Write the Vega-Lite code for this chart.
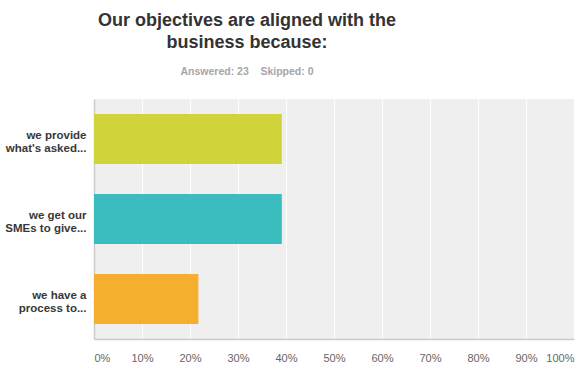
{
  "$schema": "https://vega.github.io/schema/vega-lite/v6.json",
  "autosize": {"type": "none"},
  "width": 480,
  "height": 240,
  "padding": {"left": 94, "top": 99, "right": 9, "bottom": 36},
  "background": "white",
  "title": {
    "text": ["Our objectives are aligned with the", "business because:"],
    "subtitle": "Answered: 23\u00a0\u00a0\u00a0\u00a0Skipped: 0",
    "anchor": "middle",
    "dx": -87,
    "offset": 22,
    "font": "Liberation Sans, Arial, sans-serif",
    "fontSize": 18,
    "fontWeight": "bold",
    "color": "#333333",
    "lineHeight": 22,
    "subtitleFont": "Liberation Sans, Arial, sans-serif",
    "subtitleFontSize": 10.5,
    "subtitleFontWeight": "bold",
    "subtitleColor": "#a6a6a6",
    "subtitlePadding": 15
  },
  "config": {
    "view": {"fill": "#efefef", "stroke": null},
    "font": "Liberation Sans, Arial, sans-serif"
  },
  "data": {
    "values": [
      {"label": "we provide|what's asked...", "pct": 39.13, "order": 1},
      {"label": "we get our|SMEs to give...", "pct": 39.13, "order": 2},
      {"label": "we have a|process to...", "pct": 21.74, "order": 3}
    ]
  },
  "mark": {"type": "bar"},
  "encoding": {
    "y": {
      "field": "label",
      "type": "nominal",
      "sort": {"field": "order"},
      "scale": {"paddingInner": 0.375, "paddingOuter": 0.1875},
      "axis": {
        "title": null,
        "labelExpr": "split(datum.value, '|')",
        "labelFont": "Liberation Sans, Arial, sans-serif",
        "labelFontSize": 11.5,
        "labelFontWeight": "bold",
        "labelColor": "#383838",
        "labelLineHeight": 12.5,
        "labelPadding": 8,
        "labelOffset": -3,
        "labelLimit": 200,
        "ticks": false,
        "domainColor": "#cccccc",
        "domainWidth": 1.5,
        "grid": false
      }
    },
    "x": {
      "field": "pct",
      "type": "quantitative",
      "scale": {"domain": [0, 100], "nice": false},
      "axis": {
        "title": null,
        "values": [0, 10, 20, 30, 40, 50, 60, 70, 80, 90, 100],
        "labelExpr": "datum.value + '%'",
        "labelFont": "Liberation Sans, Arial, sans-serif",
        "labelFontSize": 11,
        "labelColor": "#666666",
        "labelPadding": 13,
        "labelFlush": true,
        "ticks": false,
        "domainColor": "#cccccc",
        "domainWidth": 1.5,
        "grid": true,
        "gridColor": "#ffffff",
        "gridWidth": 1
      }
    },
    "color": {
      "field": "label",
      "type": "nominal",
      "sort": {"field": "order"},
      "scale": {"range": ["#d1d33a", "#3bbdbf", "#f6ae30"]},
      "legend": null
    }
  }
}
